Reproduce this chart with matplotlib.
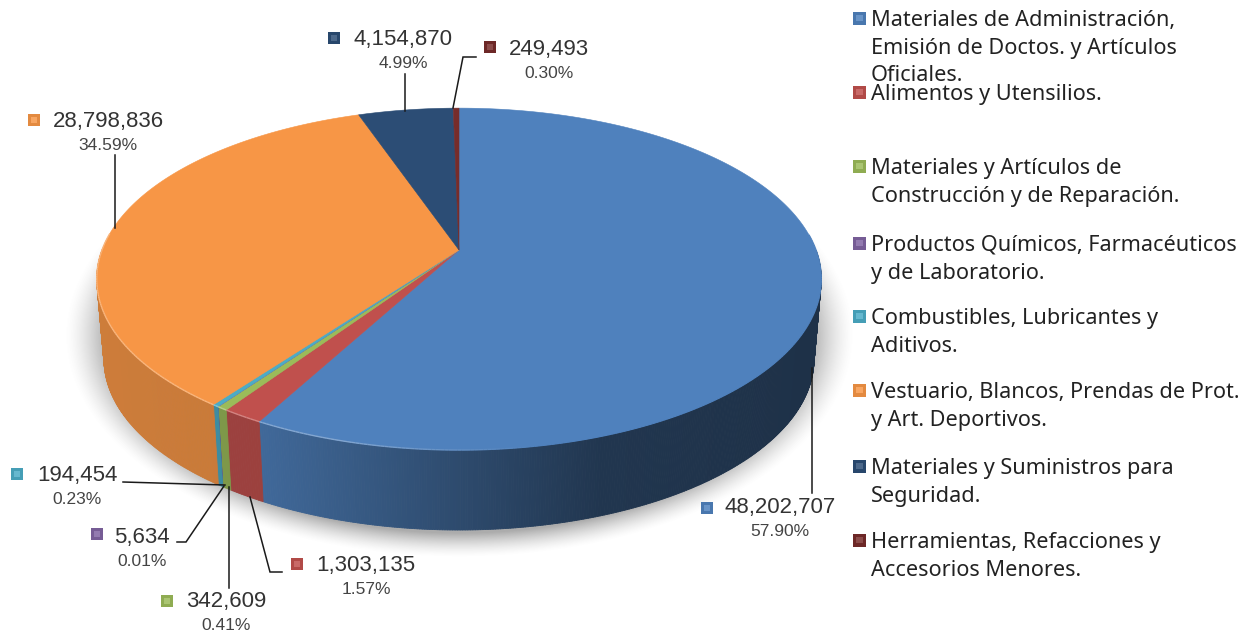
import matplotlib
matplotlib.use('Agg')
import matplotlib.pyplot as plt
import numpy as np
from matplotlib.collections import LineCollection, PolyCollection
from matplotlib.colors import to_rgb
from matplotlib.patches import Rectangle

# datos del grafico
categorias = [
    'Materiales de Administración,\nEmisión de Doctos. y Artículos\nOficiales.',
    'Alimentos y Utensilios.',
    'Materiales y Artículos de\nConstrucción y de Reparación.',
    'Productos Químicos, Farmacéuticos\ny de Laboratorio.',
    'Combustibles, Lubricantes y\nAditivos.',
    'Vestuario, Blancos, Prendas de Prot.\ny Art. Deportivos.',
    'Materiales y Suministros para\nSeguridad.',
    'Herramientas, Refacciones y\nAccesorios Menores.',
]
valores = [48202707, 1303135, 342609, 5634, 194454, 28798836, 4154870, 249493]
porcentajes = ['57.90%', '1.57%', '0.41%', '0.01%', '0.23%', '34.59%', '4.99%', '0.30%']
colores = ['#4F81BD', '#C0504D', '#9BBB59', '#8064A2', '#4BACC6', '#F79646', '#2C4D75', '#772C2A']

# posiciones en pixeles de la imagen
cx, cy = 459, 250
sx, sy, k = 357, 166, 0.17
alto = 80
reduccion = 0.98
leyenda_y = [18, 92, 166, 243, 316, 390, 466, 540]
etiqueta_xy = [(780, 508), (366, 565), (226, 602), (142, 537), (77, 476), (108, 122), (403, 39), (549, 49)]
cuadro_xy = [(707, 508), (297, 564), (167, 601), (97, 534), (17, 474), (34, 120), (334, 38), (490, 47)]
guias = [
    ([812, 812], [368, 493]),
    ([250, 270, 282], [497, 572, 572]),
    ([229, 229], [487, 588]),
    ([224, 186, 177], [486, 542, 542]),
    ([225, 123], [485, 482]),
    ([115, 115], [228, 155]),
    ([405, 405], [111, 74]),
    ([453, 463, 476], [108, 57, 57]),
]


def proyectar(ang):
    # circulo visto en perspectiva, angulo medido desde arriba en sentido horario
    x, y = np.sin(ang), np.cos(ang)
    d = 1 + k * y
    return cx + sx * x / d, cy - sy * y / d


def sombra_lateral(x):
    return np.interp(x, [-1, -0.55, 0, 0.4, 1], [0.83, 0.81, 0.58, 0.42, 0.38])


plt.rcParams['font.family'] = 'Liberation Sans'
fig = plt.figure(figsize=(12.51, 6.37), dpi=100)
ax = fig.add_axes([0, 0, 1, 1])
ax.set_xlim(0, 1251)
ax.set_ylim(637, 0)
ax.axis('off')

# sombra difusa debajo del pastel
gx, gy = np.meshgrid(np.arange(40, 900), np.arange(100, 600))
dist = np.sqrt(((gx - cx) / 395) ** 2 + ((gy - 335) / 222) ** 2)
sombra = np.zeros(gx.shape + (4,))
sombra[..., :3] = 0.35
sombra[..., 3] = np.clip((1 - dist) / 0.11, 0, 1) ** 1.5 * 0.5
ax.imshow(sombra, extent=(40, 900, 600, 100), zorder=1, aspect='auto')

fracciones = np.array(valores) / sum(valores)
limites = np.concatenate([[0], np.cumsum(fracciones)]) * 2 * np.pi

# pared lateral en tiras finas, solo la parte de delante
caras, tonos = [], []
for i, color in enumerate(colores):
    base = np.array(to_rgb(color))
    n = max(2, int((limites[i + 1] - limites[i]) / 0.006))
    angs = np.linspace(limites[i], limites[i + 1], n)
    xs, ys = proyectar(angs)
    xb = cx + (xs - cx) * reduccion
    yb = ys + alto
    for j in range(n - 1):
        if np.cos(angs[j]) > 0.0:
            continue
        caras.append([(xs[j], ys[j]), (xs[j + 1], ys[j + 1]), (xb[j + 1], yb[j + 1]), (xb[j], yb[j])])
        tonos.append(base * sombra_lateral((xs[j] - cx) / sx))
ax.add_collection(PolyCollection(caras, facecolors=tonos, edgecolors=tonos, linewidths=0.6, zorder=2))

# cara superior
for i, color in enumerate(colores):
    base = np.array(to_rgb(color))
    angs = np.linspace(limites[i], limites[i + 1], max(3, int((limites[i + 1] - limites[i]) / 0.01)))
    xs, ys = proyectar(angs)
    ax.fill(np.r_[cx, xs], np.r_[cy, ys], facecolor=color, edgecolor=color, linewidth=0.4, zorder=3)
    # brillo en el borde frontal, se apaga hacia la derecha
    trozos, mezcla = [], []
    for j in range(len(angs) - 1):
        if np.cos(angs[j]) < 0.1:
            m = np.clip((cx + 80 - xs[j]) / 200, 0, 1)
            trozos.append([(xs[j], ys[j]), (xs[j + 1], ys[j + 1])])
            mezcla.append(base + m * 0.3 * (1 - base))
    if trozos:
        ax.add_collection(LineCollection(trozos, colors=mezcla, linewidths=1.0, zorder=4))

# guias de las etiquetas
for gx_, gy_ in guias:
    ax.plot(gx_, gy_, color='#1a1a1a', linewidth=1.1, zorder=5, solid_joinstyle='miter')


def cuadrito(x, y, color, lado):
    base = np.array(to_rgb(color))
    ax.add_patch(Rectangle((x - lado / 2, y - lado / 2), lado, lado, facecolor=base * 0.92,
                           edgecolor='none', zorder=6))
    m = lado * 0.5
    ax.add_patch(Rectangle((x - m / 2, y - m / 2), m, m, facecolor=0.85 * base + 0.15,
                           edgecolor='none', zorder=7))


# etiquetas de valor y porcentaje
for i in range(len(valores)):
    ex, ey = etiqueta_xy[i]
    ax.text(ex, ey, f'{valores[i]:,}', ha='center', va='center', fontsize=16, color='#333333', zorder=8)
    ax.text(ex, ey + 24, porcentajes[i], ha='center', va='center', fontsize=12.5, color='#444444', zorder=8)
    cuadrito(cuadro_xy[i][0], cuadro_xy[i][1], colores[i], 12)

# leyenda
for i, nombre in enumerate(categorias):
    cuadrito(859.5, leyenda_y[i], colores[i], 13)
    ax.text(871, leyenda_y[i] - 8, nombre, ha='left', va='top', fontsize=15.6, family='Noto Sans',
            color='#222222', linespacing=1.42, zorder=8)

fig.savefig('out.png', dpi=100)
